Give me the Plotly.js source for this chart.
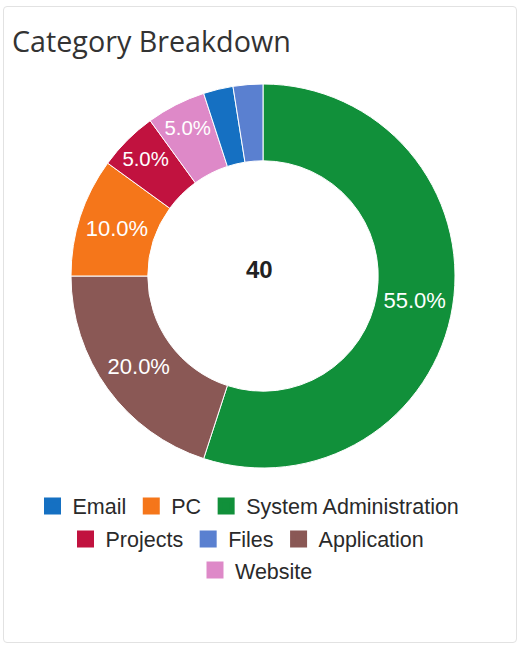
<!DOCTYPE html>
<html>
<head>
<meta charset="utf-8">
<script src="https://cdn.plot.ly/plotly-3.0.1.min.js"></script>
<style>
  html, body { margin: 0; padding: 0; background: #fff; }
  #wrap { position: relative; width: 519px; height: 645px; }
  #chart { width: 519px; height: 645px; }
  #card { position: absolute; left: 3px; top: 6px; width: 512px; height: 635px;
          border: 1px solid #e2e2e2; border-radius: 4px; pointer-events: none; }
</style>
</head>
<body>
<div id="wrap">
  <div id="chart"></div>
  <div id="card"></div>
</div>
<script>
// Data in original (legend) order
const categories = ["Email", "PC", "System Administration", "Projects", "Files", "Application", "Website"];
const counts = [1, 4, 22, 2, 1, 8, 2];
const colors = ["#1570c2", "#f5761a", "#11903a", "#c1123f", "#5a80d0", "#8a5855", "#de89c8"];
const legendRows = [
  ["Email", "PC", "System Administration"],
  ["Projects", "Files", "Application"],
  ["Website"]
];
const total = counts.reduce((a, b) => a + b, 0);

// Slices drawn sorted by value (descending), clockwise from 12 o'clock
const order = categories.map((c, i) => i).sort((a, b) => counts[b] - counts[a]);
const sLabels = order.map(i => categories[i]);
const sValues = order.map(i => counts[i]);
const sColors = order.map(i => colors[i]);
const sTemplates = order.map(i => (counts[i] / total >= 0.05 ? "%{percent:.1%}" : ""));

const traces = [];

// Legend-only helper pies (one per legend row) so the rows are centred and ordered.
// They are tiny and sit under the main donut's ring, which is drawn after them.
const legendIds = ["legend", "legend2", "legend3"];
legendRows.forEach((row, r) => {
  const rowColors = row.map(l => colors[categories.indexOf(l)]);
  traces.push({
    type: "pie",
    labels: row,
    values: row.map(l => counts[categories.indexOf(l)]),
    marker: { colors: rowColors, line: { color: rowColors, width: 5 } },
    sort: false,
    textinfo: "none",
    hoverinfo: "skip",
    domain: { x: [0.828, 0.8285], y: [0.55, 0.5505] },
    legend: legendIds[r],
    showlegend: true
  });
});

traces.push({
  type: "pie",
  labels: sLabels,
  values: sValues,
  marker: { colors: sColors, line: { color: "#ffffff", width: 1 } },
  sort: false,
  direction: "clockwise",
  rotation: 0,
  hole: 0.6,
  domain: { x: [71 / 519, 455 / 519], y: [0, 1] },
  texttemplate: sTemplates,
  textposition: "inside",
  insidetextorientation: "horizontal",
  textfont: { family: "Liberation Sans, Arial, sans-serif", size: 22, color: "#ffffff" },
  hoverinfo: "label+value+percent",
  showlegend: false
});

const legendFont = { family: "Liberation Sans, Arial, sans-serif", size: 21.5, color: "#2a2a2a" };
const rowY = [-0.099, -0.185, -0.266];
const rowX = [0.5 - 11 / 519, 0.5 - 12 / 519, 0.5 - 3 / 519];
const layout = {
  width: 519,
  height: 645,
  margin: { l: 0, r: 0, t: 84, b: 177 },
  paper_bgcolor: "#ffffff",
  plot_bgcolor: "#ffffff",
  title: {
    text: "Category Breakdown",
    font: { family: "Open Sans, sans-serif", size: 28.7, color: "#333333" },
    xref: "container", yref: "container",
    x: 12 / 519, xanchor: "left",
    y: 1 - 42 / 645, yanchor: "middle"
  },
  annotations: [{
    text: String(total),
    xref: "paper", yref: "paper",
    x: 0.5, y: 0.5, yshift: 7,
    showarrow: false,
    font: { family: "Liberation Sans, Arial, sans-serif", size: 24, color: "#222222", weight: "bold" }
  }]
};
legendIds.forEach((id, r) => {
  layout[id] = {
    orientation: "h",
    x: rowX[r], xanchor: "center",
    y: rowY[r], yanchor: "middle",
    font: legendFont,
    bgcolor: "rgba(0,0,0,0)",
    itemclick: "toggle"
  };
});

Plotly.newPlot("chart", traces, layout, { displayModeBar: false });
</script>
</body>
</html>
